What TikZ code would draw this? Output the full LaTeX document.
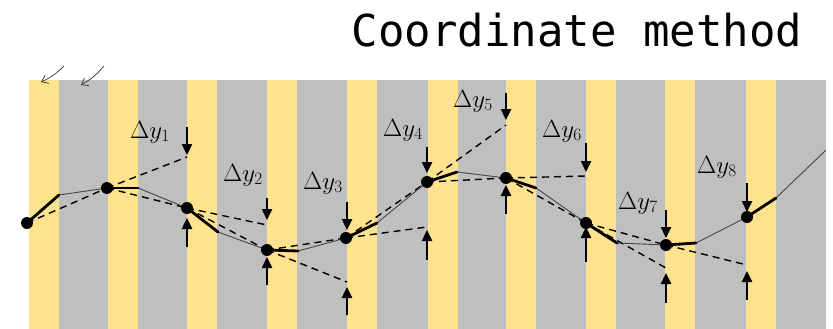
\documentclass[tikz,border=0pt]{standalone}
\usepackage{fontspec}
\newfontfamily\titlefont{DejaVu Sans Mono}
\usetikzlibrary{arrows.meta}
\definecolor{stripeyellow}{RGB}{255,226,142}
\definecolor{stripegray}{RGB}{191,191,191}
\definecolor{curvegray}{RGB}{70,70,70}
\tikzset{
  dot/.style={circle,fill=black,inner sep=0pt,minimum size=12pt},
  fine/.style={draw=curvegray,line width=0.9pt},
  bold/.style={draw=black,line width=2.8pt,line cap=round},
  chord/.style={draw=black,line width=1.4pt,dash pattern=on 7pt off 5pt},
  dyarrow/.style={draw=black,line width=2.4pt,-{Triangle[width=10pt,length=11pt]}},
  pointer/.style={draw=black!80,line width=0.7pt,-{Straight Barb[width=9pt,length=6pt]}},
  dylabel/.style={anchor=base west,inner sep=0pt,font=\fontsize{25}{28}\selectfont},
}
\begin{document}
\begin{tikzpicture}[x=1pt,y=-1pt]
\useasboundingbox (0,0) rectangle (833,329);

% striped background
\fill[stripegray] (29,80) rectangle (826,329);
\foreach \x in {29,108,187,267,347,428,506,586,665,746}
  \fill[stripeyellow] (\x,80) rectangle ++(30,249);

% title
\node[anchor=base,inner sep=0pt,font=\titlefont\fontsize{44}{48}\selectfont] (title) at (577,47) {Coordinate method};

% small pointers at the top left
\coordinate (a1s) at (64,66); \coordinate (a1e) at (41,82);
\coordinate (a2s) at (104,66); \coordinate (a2e) at (81,85);
\draw[pointer] (a1s) to[bend left=10] (a1e);
\draw[pointer] (a2s) to[bend left=10] (a2e);

% measured points
\coordinate (p0) at (27,223);
\coordinate (p1) at (107,188);
\coordinate (p2) at (187,208);
\coordinate (p3) at (267,250);
\coordinate (p4) at (346,238);
\coordinate (p5) at (427,182);
\coordinate (p6) at (506,178);
\coordinate (p7) at (586,223);
\coordinate (p8) at (666,245);
\coordinate (p9) at (747,217);

% curve vertices at the far edge of each yellow stripe
\coordinate (q0) at (59,195);
\coordinate (q1) at (138,188);
\coordinate (q2) at (218,232);
\coordinate (q3) at (298,251);
\coordinate (q4) at (377,223);
\coordinate (q5) at (457,172);
\coordinate (q6) at (536,188);
\coordinate (q7) at (617,243);
\coordinate (q8) at (696,243);
\coordinate (q9) at (776,198);
\coordinate (qend) at (826,150);

% extrapolated positions
\coordinate (e1) at (187,157);
\coordinate (e2) at (267,225);
\coordinate (e3) at (347,282);
\coordinate (e4) at (427,227);
\coordinate (e5) at (506,125);
\coordinate (e6) at (586,176);
\coordinate (e7) at (666,268);
\coordinate (e8) at (747,265);

% dashed chords and extensions
\foreach \a/\b in {p0/p1,p1/p2,p2/p3,p3/p4,p4/p5,p5/p6,p6/p7,p7/p8}
  \draw[chord] (\a) -- (\b);
\foreach \a/\b in {p1/e1,p2/e2,p3/e3,p4/e4,p5/e5,p6/e6,p7/e7,p8/e8}
  \draw[chord] (\a) -- (\b);

% thin curve across the gray stripes
\draw[fine] (p0) -- (q0) -- (p1) -- (q1) -- (p2) -- (q2) -- (p3) -- (q3)
  -- (p4) -- (q4) -- (p5) -- (q5) -- (p6) -- (q6) -- (p7) -- (q7)
  -- (p8) -- (q8) -- (p9) -- (q9) -- (qend);

% bold pieces across the yellow stripes
\foreach \a/\b in {p0/q0,p1/q1,p2/q2,p3/q3,p4/q4,p5/q5,p6/q6,p7/q7,p8/q8,p9/q9}
  \draw[bold] (\a) -- (\b);

% dots
\foreach \n in {0,...,9}
  \node[dot] (d\n) at (p\n) {};

% difference arrows (down from above, up from below)
\foreach \i/\x/\ds/\de/\us/\ue in {
  1/187/127/155/247/218,
  2/267/198/220/285/257,
  3/347/202/230/315/287,
  4/427/147/173/260/230,
  5/506/93/120/214/185,
  6/586/143/172/262/227,
  7/666/210/238/303/273,
  8/747/183/212/300/271}{
  \coordinate (down\i s) at (\x,\ds);
  \coordinate (down\i e) at (\x,\de);
  \coordinate (up\i s) at (\x,\us);
  \coordinate (up\i e) at (\x,\ue);
  \draw[dyarrow] (down\i s) -- (down\i e);
  \draw[dyarrow] (up\i s) -- (up\i e);
}

% labels
\node[dylabel] (l1) at (130,138) {$\Delta y_1$};
\node[dylabel] (l2) at (223,181) {$\Delta y_2$};
\node[dylabel] (l3) at (303,189) {$\Delta y_3$};
\node[dylabel] (l4) at (383,136) {$\Delta y_4$};
\node[dylabel] (l5) at (453,107) {$\Delta y_5$};
\node[dylabel] (l6) at (542,137) {$\Delta y_6$};
\node[dylabel] (l7) at (618,209) {$\Delta y_7$};
\node[dylabel] (l8) at (697,173) {$\Delta y_8$};
\end{tikzpicture}
\end{document}
